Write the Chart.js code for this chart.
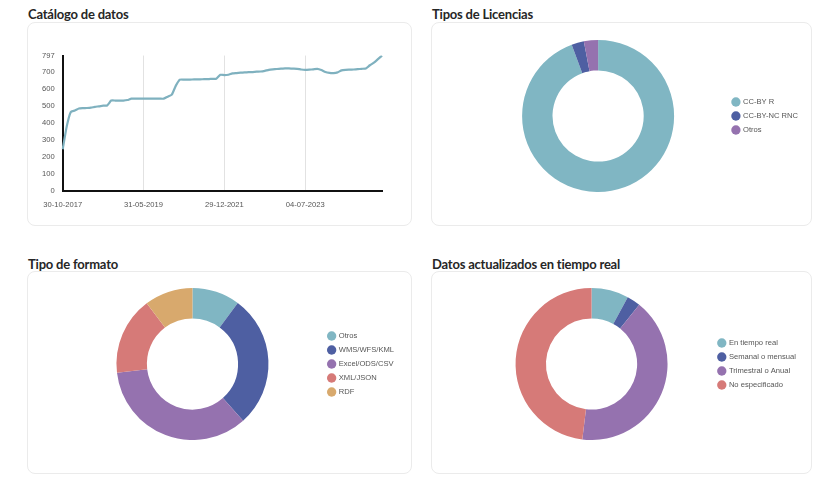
<!DOCTYPE html>
<html lang="es">
<head>
<meta charset="utf-8">
<title>Catálogo de datos</title>
<script src="https://cdn.jsdelivr.net/npm/chart.js@4.4.1/dist/chart.umd.min.js"></script>
<style>
    html, body { margin: 0; padding: 0; background: #fff; }
    body { position: relative; width: 840px; height: 487px; overflow: hidden; font-family: Lato, sans-serif; }
    .title { position: absolute; font-weight: 700; font-size: 13px; color: #262626; letter-spacing: -0.2px; }
    .card { position: absolute; border: 1px solid #ebebeb; border-radius: 8px; box-sizing: border-box; }
    .box { position: absolute; }
</style>
</head>
<body>
<div class="title" style="left:28px;top:6px;">Catálogo de datos</div>
<div class="title" style="left:432px;top:6px;">Tipos de Licencias</div>
<div class="title" style="left:28px;top:256px;">Tipo de formato</div>
<div class="title" style="left:432px;top:256px;">Datos actualizados en tiempo real</div>

<div class="card" style="left:27px;top:22px;width:385px;height:204px;"></div>
<div class="card" style="left:431px;top:22px;width:381px;height:204px;"></div>
<div class="card" style="left:27px;top:271px;width:385px;height:203px;"></div>
<div class="card" style="left:431px;top:271px;width:381px;height:203px;"></div>

<div class="box" style="left:28px;top:43px;width:370px;height:180px;"><canvas id="catalogo"></canvas></div>
<div class="box" style="left:470px;top:40px;width:338px;height:152px;"><canvas id="licencias"></canvas></div>
<div class="box" style="left:63px;top:288px;width:341px;height:152px;"><canvas id="formato"></canvas></div>
<div class="box" style="left:471px;top:288px;width:335px;height:152px;"><canvas id="actualizacion"></canvas></div>

<script>
// Catálogo de datos: número de conjuntos por fecha
const fechas = [
    '30-10-2017', '15-11-2017', '30-11-2017', '29-12-2017', '31-01-2018', '28-02-2018', '30-03-2018', '30-04-2018',
    '31-05-2018', '29-06-2018', '31-07-2018', '31-08-2018', '28-09-2018', '31-10-2018', '30-11-2018', '31-12-2018',
    '31-01-2019', '28-02-2019', '29-03-2019', '30-04-2019', '31-05-2019', '31-07-2019', '30-09-2019', '29-11-2019',
    '31-01-2020', '31-03-2020', '29-05-2020', '31-07-2020', '30-09-2020', '30-11-2020', '29-01-2021', '31-03-2021',
    '30-04-2021', '31-05-2021', '30-06-2021', '30-07-2021', '31-08-2021', '30-09-2021', '29-10-2021', '30-11-2021',
    '29-12-2021', '31-01-2022', '28-02-2022', '31-03-2022', '29-04-2022', '31-05-2022', '30-06-2022', '29-07-2022',
    '31-08-2022', '30-09-2022', '31-10-2022', '30-11-2022', '30-12-2022', '31-01-2023', '28-02-2023', '31-03-2023',
    '28-04-2023', '31-05-2023', '15-06-2023', '30-06-2023', '04-07-2023', '31-07-2023', '31-08-2023', '29-09-2023',
    '31-10-2023', '30-11-2023', '29-12-2023', '31-01-2024', '29-02-2024', '27-03-2024', '30-04-2024', '31-05-2024',
    '28-06-2024', '31-07-2024', '30-08-2024', '30-09-2024', '31-10-2024', '29-11-2024', '20-12-2024', '31-01-2025'
];
const totalDatasets = [
    245, 380, 465, 473, 485, 487, 488, 490, 495, 498,
    502, 503, 532, 532, 532, 532, 535, 543, 543, 543,
    543, 543, 543, 543, 543, 543, 555, 567, 620, 655,
    655, 655, 656, 657, 657, 658, 658, 660, 661, 684,
    682, 684, 692, 694, 696, 698, 699, 700, 702, 703,
    707, 713, 716, 718, 720, 721, 721, 720, 719, 715,
    713, 714, 716, 719, 712, 700, 695, 694, 698, 710,
    713, 714, 715, 717, 719, 721, 740, 755, 776, 797
];
const yTicks = [0, 100, 200, 300, 400, 500, 600, 700, 797];
const tickEvery = 20;

const licenciaLabels = ['CC-BY R', 'CC-BY-NC RNC', 'Otros'];
const licenciaValores = [752, 21, 24];

const formatoLabels = ['Otros', 'WMS/WFS/KML', 'Excel/ODS/CSV', 'XML/JSON', 'RDF'];
const formatoValores = [81, 225, 277, 132, 82];

const actualizacionLabels = ['En tiempo real', 'Semanal o mensual', 'Trimestral o Anual', 'No especificado'];
const actualizacionValores = [63, 23, 328, 383];

const paleta = ['#80b6c3', '#4e5fa2', '#9572af', '#d67a78', '#d8a96d'];
const paletaActualizacion = ['#80b6c3', '#4e5fa2', '#9572af', '#d67a78'];

document.addEventListener('DOMContentLoaded', function () {
    const tickFont = { family: 'Liberation Sans, Arial, sans-serif', size: 7.6 };

    new Chart(document.getElementById('catalogo'), {
        type: 'line',
        data: {
            labels: fechas,
            datasets: [{
                data: totalDatasets,
                borderColor: '#7fb1bf',
                borderWidth: 2.2,
                pointRadius: 0,
                tension: 0.15,
                fill: false
            }]
        },
        options: {
            responsive: true,
            maintainAspectRatio: false,
            animation: false,
            layout: { padding: { top: 12, right: 16, bottom: 5 } },
            plugins: { legend: { display: false }, tooltip: { enabled: false } },
            scales: {
                x: {
                    grid: {
                        drawTicks: false,
                        color: ctx => (ctx.index % tickEvery === 0 ? '#e2e2e2' : 'transparent')
                    },
                    border: { color: '#111', width: 2 },
                    ticks: {
                        autoSkip: false,
                        maxRotation: 0,
                        padding: 9,
                        color: '#555',
                        font: tickFont,
                        callback: function (value, index) {
                            return index % tickEvery === 0 ? this.getLabelForValue(value) : '';
                        }
                    }
                },
                y: {
                    min: yTicks[0],
                    max: yTicks[yTicks.length - 1],
                    grid: { display: false, drawTicks: false },
                    border: { color: '#111', width: 2 },
                    ticks: { padding: 8, color: '#555', font: tickFont },
                    afterBuildTicks: function (scale) {
                        scale.ticks = yTicks.map(v => ({ value: v }));
                    },
                    afterFit: function (scale) { scale.width = 34.7; }
                }
            }
        }
    });

    function donut(id, labels, values, colors) {
        return new Chart(document.getElementById(id), {
            type: 'doughnut',
            data: {
                labels: labels,
                datasets: [{
                    data: values,
                    backgroundColor: colors,
                    borderWidth: 0
                }]
            },
            options: {
                responsive: true,
                maintainAspectRatio: false,
                animation: false,
                cutout: '60%',
                plugins: {
                    tooltip: { enabled: false },
                    legend: {
                        position: 'right',
                        labels: {
                            usePointStyle: true,
                            pointStyle: 'circle',
                            boxWidth: 6.6,
                            boxHeight: 6.6,
                            padding: 6.4,
                            color: '#555',
                            font: tickFont
                        }
                    }
                }
            }
        });
    }

    donut('licencias', licenciaLabels, licenciaValores, paleta.slice(0, 3));
    donut('formato', formatoLabels, formatoValores, paleta);
    donut('actualizacion', actualizacionLabels, actualizacionValores, paletaActualizacion);
});
</script>
</body>
</html>
